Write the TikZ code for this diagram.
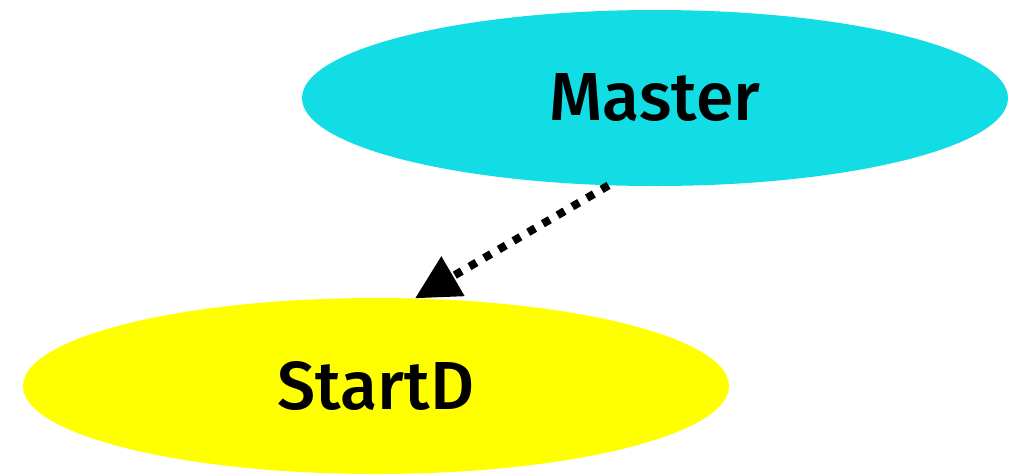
\documentclass[tikz,border=0pt]{standalone}
\usepackage{fontspec}
\setmainfont{Fira Sans}[UprightFont=* Medium]
\usetikzlibrary{shapes.geometric,arrows.meta}
\definecolor{mastercyan}{RGB}{18,220,228}
\definecolor{startyellow}{RGB}{255,255,0}
\begin{document}
\begin{tikzpicture}[x=1pt,y=-1pt,
    blob/.style={ellipse,inner sep=0pt,minimum width=706pt,minimum height=176pt,font=\fontsize{68}{70}\selectfont},
    dep/.style={-{Triangle[length=44pt,width=44pt]},line width=8pt,dash pattern=on 8pt off 9pt}]
    \useasboundingbox(0,0)rectangle(1010,475);
    \node[blob,fill=mastercyan](master)at(655,98){Master};
    \node[blob,fill=startyellow](startd)at(376,386){StartD};
    \draw[dep](master.242)--(startd.66);
\end{tikzpicture}
\end{document}
